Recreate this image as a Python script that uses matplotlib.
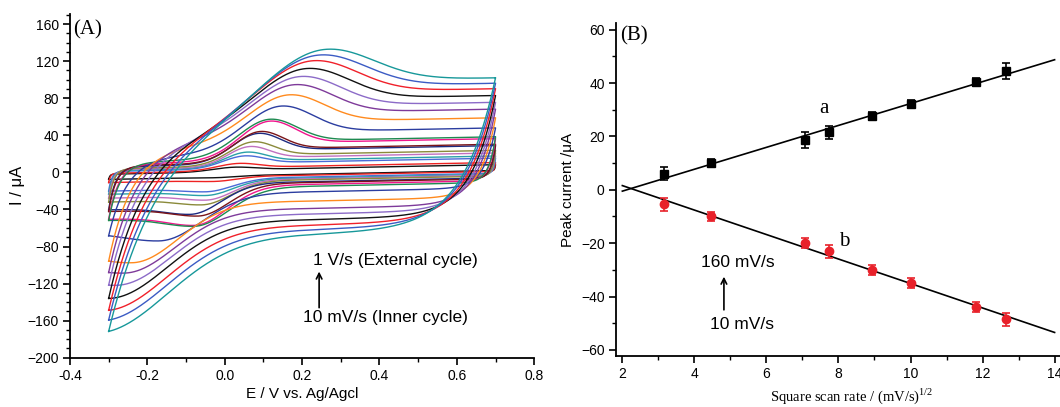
import numpy as np
import matplotlib
matplotlib.use("Agg")
import matplotlib.pyplot as plt
from matplotlib.ticker import MultipleLocator, FormatStrFormatter

plt.rcParams['font.family'] = ['Liberation Sans', 'DejaVu Sans']
plt.rcParams['mathtext.fontset'] = 'custom'
plt.rcParams['mathtext.rm'] = 'Liberation Serif'

# ---- panel A: cyclic voltammograms, outer (1 V/s) -> inner (10 mV/s)
cv_colors = ['#17989a', '#3b5bc4', '#f0202a', '#111111', '#8c6bc8', '#7e3a9a',
             '#ff8a1e', '#2b3da0', '#1e8a50', '#f0148c', '#7a1418', '#1c2a80',
             '#8a8a3a', '#c070c0', '#2aa0a8', '#4a6ad8', '#ee2222', '#111111']
cv_cap = [67, 62, 57, 51, 45, 39, 31, 21, 15, 13, 11, 10, 8, 7, 6, 5, 3, 2]      # capacitive half-gap
cv_ipa = [69, 67, 65, 62, 59, 56, 53, 51, 43, 43, 34, 33, 26, 22, 17, 14, 8, 5]   # anodic peak height
cv_epa = [0.26, 0.245, 0.23, 0.215, 0.20, 0.185, 0.17, 0.15, 0.12, 0.12,
          0.095, 0.09, 0.077, 0.068, 0.06, 0.055, 0.04, 0.03]
cv_wa = [0.155, 0.148, 0.14, 0.133, 0.125, 0.118, 0.11, 0.10, 0.085, 0.08,
         0.07, 0.07, 0.065, 0.06, 0.06, 0.06, 0.06, 0.06]
cv_ipc = [102, 94, 88, 81, 73, 66, 63, 50, 41, 42, 34, 33, 25, 21, 17, 14, 5, 2]  # cathodic peak height
cv_epc = [-0.33, -0.32, -0.31, -0.30, -0.28, -0.26, -0.24, -0.17, -0.08, -0.08,
          -0.07, -0.09, -0.06, -0.05, -0.05, -0.05, -0.03, -0.03]
cv_wc = [0.18, 0.17, 0.16, 0.15, 0.14, 0.13, 0.12, 0.11, 0.09, 0.085,
         0.08, 0.08, 0.075, 0.07, 0.07, 0.07, 0.06, 0.06]
cv_tau = [0.085, 0.078, 0.07, 0.062, 0.054, 0.046, 0.038, 0.03, 0.018, 0.016,
          0.012, 0.011, 0.008, 0.007, 0.006, 0.005, 0.003, 0.002]
slope = 8.0
tail_a = 0.45
tail_c = 0.8

# ---- panel B: peak current vs square root of scan rate
sq_rate = [3.16, 4.47, 7.07, 7.75, 8.94, 10.0, 11.83, 12.65]
ipa_b = [6, 10, 18.5, 21.5, 27.5, 32, 40.5, 44.5]
ipa_err = [2.5, 1.5, 3, 2.5, 1.5, 1.5, 1.5, 3]
ipc_b = [-5.5, -10, -20, -23, -30, -35, -44, -48.5]
ipc_err = [2.5, 1.8, 1.8, 2.5, 1.8, 1.8, 1.8, 2.5]


def peak(x, w_rise, w_fall, tail):
    return np.where(x < 0, np.exp(-0.5 * (x / w_rise) ** 2),
                    tail + (1 - tail) * np.exp(-0.5 * (x / w_fall) ** 2))


E_f = np.linspace(-0.3, 0.7, 600)
E_r = E_f[::-1]


def cv_loop(cap, A, Ea, wa, C, Ec, wc, tau):
    def base_f(E):
        return cap + slope * (E - 0.2) + A * peak(E - Ea, wa, 0.8 * wa, tail_a)

    def base_r(E):
        return -cap + slope * (E - 0.2) - C * peak(Ec - E, wc, 0.8 * wc, tail_c)

    i_left = base_r(-0.3)
    i_right = base_f(0.7)
    fwd = base_f(E_f) + (i_left - base_f(-0.3)) * np.exp(-(E_f + 0.3) / (1.6 * tau))
    rev = base_r(E_r) + (i_right - base_r(0.7)) * np.exp(-(0.7 - E_r) / tau)
    return np.concatenate([E_f, E_r]), np.concatenate([fwd, rev])


fig = plt.figure(figsize=(10.6, 4.07), dpi=100)
axA = fig.add_axes([0.066, 0.121, 0.438, 0.845])
axB = fig.add_axes([0.581, 0.125, 0.419, 0.818])

for i in reversed(range(len(cv_colors))):
    E, I = cv_loop(cv_cap[i], cv_ipa[i], cv_epa[i], cv_wa[i],
                   cv_ipc[i], cv_epc[i], cv_wc[i], cv_tau[i])
    axA.plot(E, I, color=cv_colors[i], lw=1.0)

axA.set_xlim(-0.4, 0.8)
axA.set_ylim(-200, 171)
axA.xaxis.set_major_locator(MultipleLocator(0.2))
axA.xaxis.set_minor_locator(MultipleLocator(0.1))
axA.xaxis.set_major_formatter(FormatStrFormatter('%.1f'))
axA.yaxis.set_major_locator(MultipleLocator(40))
axA.yaxis.set_minor_locator(MultipleLocator(10))
axA.set_xlabel('E / V vs. Ag/Agcl', fontsize=11, labelpad=3)
axA.set_ylabel('I / \u03bcA', fontsize=12, labelpad=2)
axA.text(-0.392, 154, '(A)', family='Liberation Serif', fontsize=15, va='center')
axA.text(0.228, -94.6, '1 V/s (External cycle)', fontsize=12.5, va='center')
axA.text(0.2025, -157, '10 mV/s (Inner cycle)', fontsize=12.5, va='center')
axA.annotate('', xy=(0.244, -104), xytext=(0.244, -149),
             arrowprops=dict(arrowstyle='->', color='black', lw=1.2))

# panel B
xfit = np.array([2.0, 14.0])
for y in (ipa_b, ipc_b):
    k, b = np.polyfit(sq_rate, y, 1)
    axB.plot(xfit, k * xfit + b, color='black', lw=1.2)
axB.errorbar(sq_rate, ipa_b, yerr=ipa_err, fmt='s', color='black', ms=6,
             capsize=3, elinewidth=1.2, capthick=1.2)
axB.errorbar(sq_rate, ipc_b, yerr=ipc_err, fmt='o', color='#e8212a', ms=6,
             capsize=3, elinewidth=1.2, capthick=1.2)

axB.set_xlim(1.82, 14.15)
axB.set_ylim(-62.3, 62.4)
axB.xaxis.set_major_locator(MultipleLocator(2))
axB.xaxis.set_minor_locator(MultipleLocator(1))
axB.yaxis.set_major_locator(MultipleLocator(20))
axB.yaxis.set_minor_locator(MultipleLocator(10))
axB.set_xlabel('Square scan rate / (mV/s)$^{\\rm 1/2}$', family='Liberation Serif',
               fontsize=10.5)
axB.xaxis.set_label_coords(0.532, -0.092)
axB.set_ylabel('Peak current /\u03bcA', fontsize=11, labelpad=4)
axB.text(1.93, 57.6, '(B)', family='Liberation Serif', fontsize=15, va='center')
axB.text(7.6, 30.3, 'a', family='Liberation Serif', fontsize=15, ha='center', va='center')
axB.text(8.15, -19.3, 'b', family='Liberation Serif', fontsize=15, ha='center', va='center')
axB.text(5.2, -27.4, '160 mV/s', fontsize=12.5, ha='center', va='center')
axB.text(5.32, -50.5, '10 mV/s', fontsize=12.5, ha='center', va='center')
axB.annotate('', xy=(4.82, -31.5), xytext=(4.82, -46),
             arrowprops=dict(arrowstyle='->', color='black', lw=1.2))

for ax in (axA, axB):
    for s in ('top', 'right'):
        ax.spines[s].set_visible(False)
    for s in ('left', 'bottom'):
        ax.spines[s].set_linewidth(1.3)
    ax.tick_params(which='major', direction='out', length=5, width=1.2, labelsize=10, pad=3)
    ax.tick_params(which='minor', direction='out', length=3, width=1.0)

fig.savefig('out.png', dpi=100)
